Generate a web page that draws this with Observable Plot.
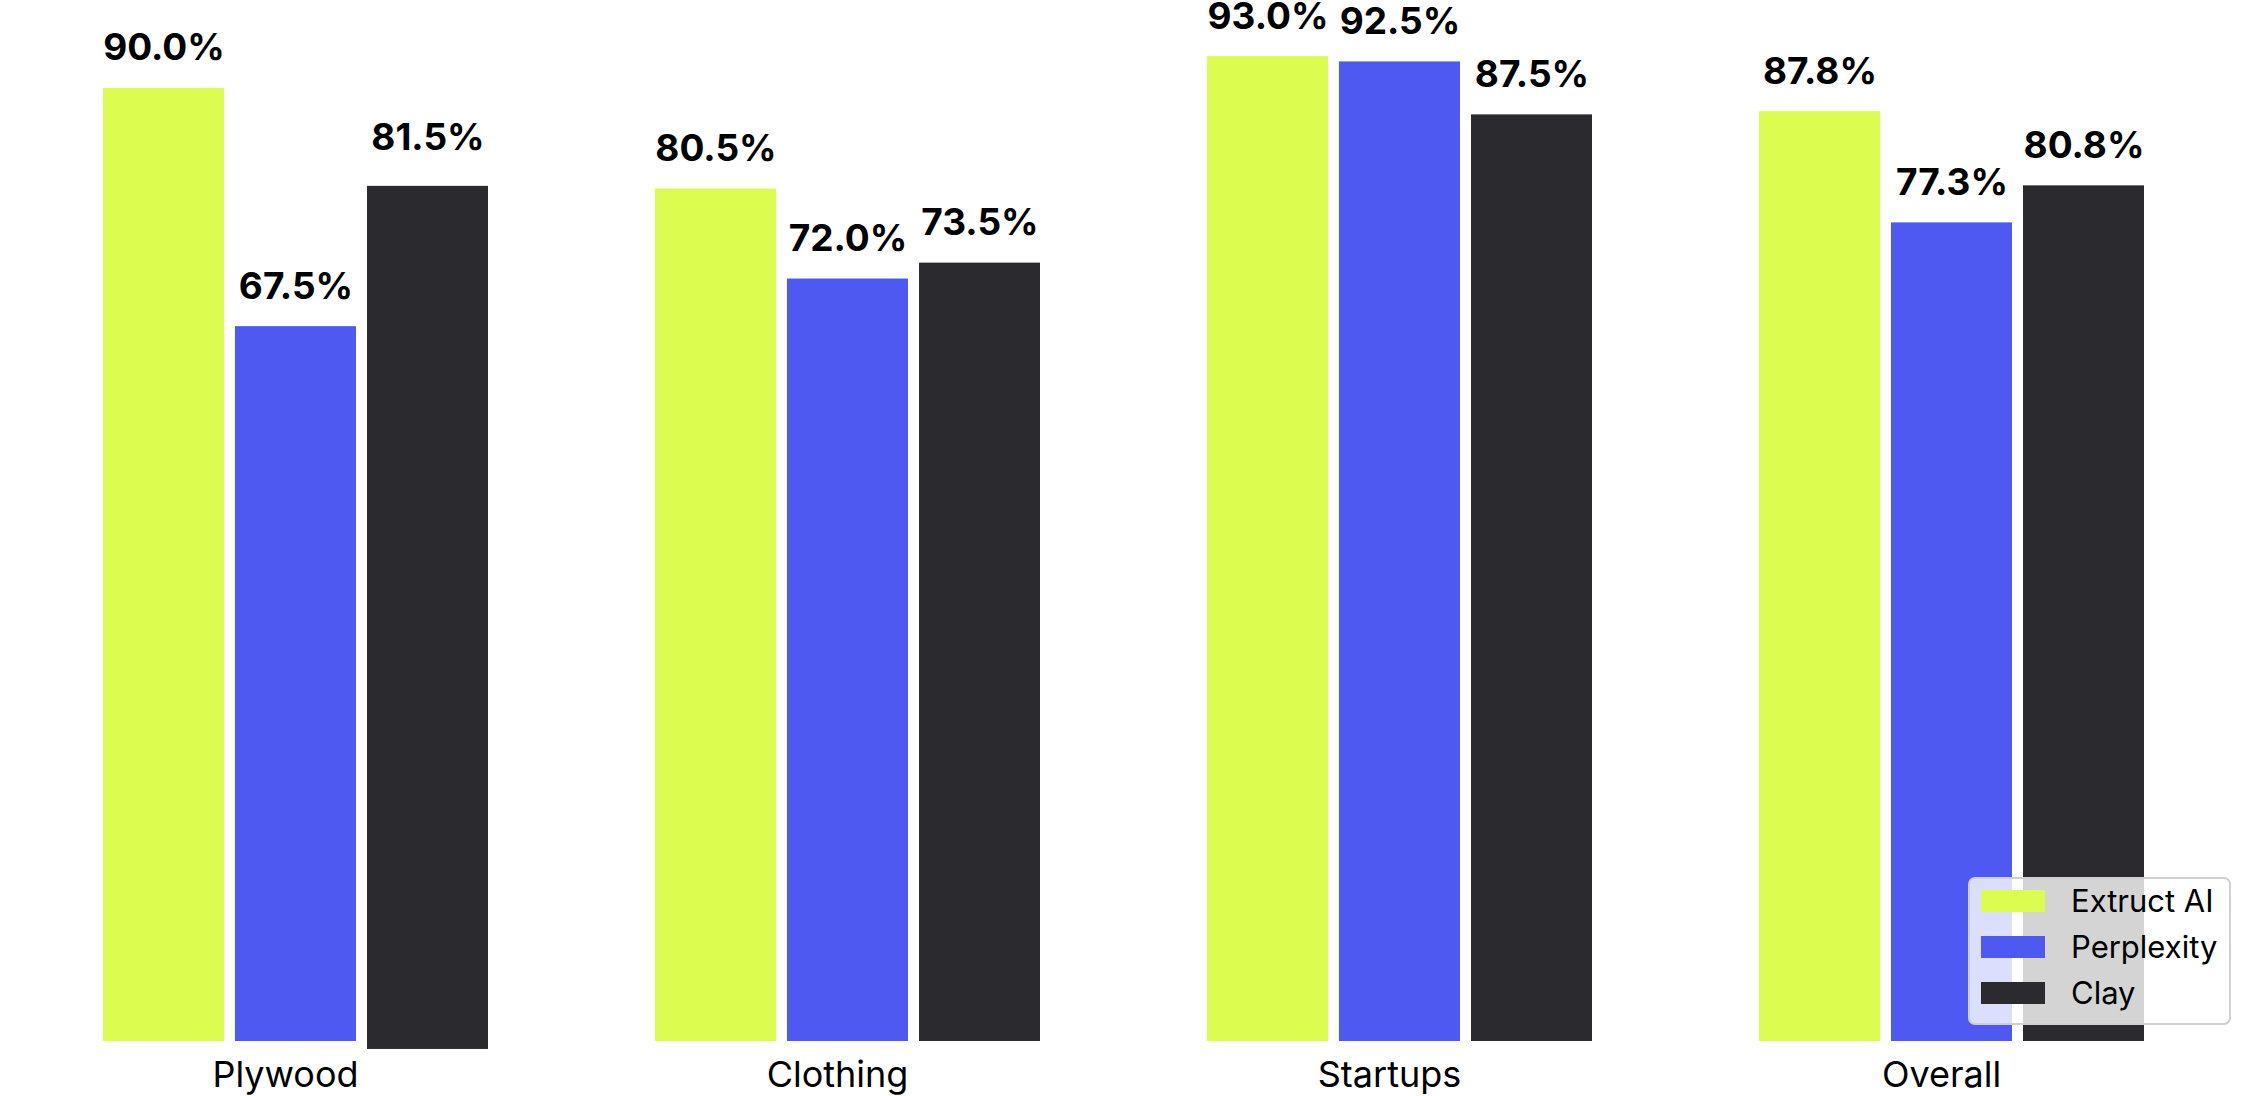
<!DOCTYPE html>
<html>
<head>
<meta charset="utf-8">
<script src="https://cdn.jsdelivr.net/npm/d3@7"></script>
<script src="https://cdn.jsdelivr.net/npm/@observablehq/plot@0.6"></script>
<style>
  html, body { margin: 0; padding: 0; background: #fff; overflow: hidden; }
  #wrap { position: relative; width: 2247px; height: 1096px; font-family: Inter, sans-serif; }
</style>
</head>
<body>
<div id="wrap"></div>
<script>
const categories = ["Plywood", "Clothing", "Startups", "Overall"];
const series = ["Extruct AI", "Perplexity", "Clay"];
const colors = ["#dcfd50", "#4e59f2", "#2b2a2e"];
const extructValues = [90.0, 80.5, 93.0, 87.8];
const perplexityValues = [67.5, 72.0, 92.5, 77.3];
const clayValues = [81.5, 73.5, 87.5, 80.8];
// Clay's Plywood bar sits slightly below the common baseline in the source chart
const clayBaseline = [-0.75, 0, 0, 0];

const seriesValues = [extructValues, perplexityValues, clayValues];
const seriesBase = [[0, 0, 0, 0], [0, 0, 0, 0], clayBaseline];
const data = [];
categories.forEach((c, i) => {
  series.forEach((s, j) => data.push({
    category: c, series: s, value: seriesValues[j][i],
    base: seriesBase[j][i], top: seriesBase[j][i] + seriesValues[j][i]
  }));
});

const chart = Plot.plot({
  width: 2247,
  height: 1096,
  marginTop: 0,
  marginBottom: 55,
  marginLeft: 103,
  marginRight: 101,
  style: {fontFamily: "Inter, sans-serif", background: "#fff", overflow: "visible"},
  fx: {domain: categories, paddingInner: 0.3, paddingOuter: 0, label: null},
  x: {domain: series, paddingInner: 0.0815, paddingOuter: 0, axis: null},
  y: {domain: [0, 98.3], axis: null},
  color: {domain: series, range: colors},
  marks: [
    Plot.barY(data, {fx: "category", x: "series", y1: "base", y2: "top", fill: "series"}),
    Plot.text(data, {
      fx: "category", x: "series", y: "value",
      text: d => d.value.toFixed(1) + "%",
      lineAnchor: "bottom", dy: -28, fontSize: 37, fontWeight: "bold", fill: "#000"
    }),
    Plot.axisFx({anchor: "bottom", tickSize: 0, tickPadding: 20, fontSize: 36, label: null, dx: -11, fill: "#000"})
  ]
});
const wrap = document.getElementById("wrap");
wrap.appendChild(chart);

const legend = document.createElement("div");
legend.style.cssText = "position:absolute;left:1968px;top:877px;width:263px;height:148px;" +
  "background:rgba(255,255,255,0.8);border:2.5px solid #cfcfcf;" +
  "border-radius:7px;box-sizing:border-box;font-family:Inter,sans-serif;";
series.forEach((s, i) => {
  const sw = document.createElement("div");
  sw.style.cssText = `position:absolute;left:11px;top:${11 + i * 46}px;width:64px;height:22px;background:${colors[i]};`;
  const lab = document.createElement("div");
  lab.style.cssText = `position:absolute;left:101px;top:${6 + i * 46}px;font-size:31px;line-height:31px;color:#000;white-space:nowrap;`;
  lab.textContent = s;
  legend.appendChild(sw);
  legend.appendChild(lab);
});
wrap.appendChild(legend);
</script>
</body>
</html>
